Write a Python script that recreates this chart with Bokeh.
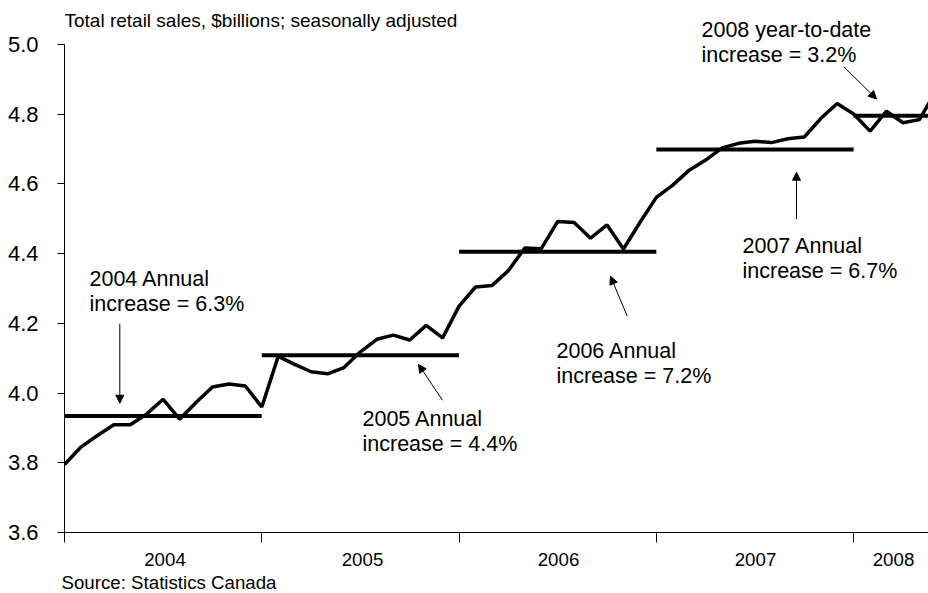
from bokeh.plotting import figure
from bokeh.models import Range1d, FixedTicker, Label, Arrow, NormalHead, Title
from bokeh.embed import file_html
from bokeh.resources import INLINE

# ---------------- data ----------------
# monthly index: 0 = Jan 2004 ... 52 = May 2008 (53 continues beyond the visible edge)
months = list(range(54))
sales = [3.795, 3.845, 3.878, 3.909, 3.909, 3.940, 3.982, 3.925, 3.973, 4.017, 4.026, 4.020,
         3.960, 4.105, 4.082, 4.061, 4.055, 4.073, 4.118, 4.154, 4.166, 4.152, 4.194, 4.158,
         4.249, 4.304, 4.308, 4.351, 4.416, 4.414, 4.492, 4.489, 4.444, 4.482, 4.413, 4.489,
         4.561, 4.596, 4.639, 4.668, 4.703, 4.716, 4.722, 4.718, 4.729, 4.734, 4.787, 4.830,
         4.800, 4.751, 4.808, 4.775, 4.784, 4.865]

year_names = ["2004", "2005", "2006", "2007", "2008"]
year_start = [0, 12, 24, 36, 48]
year_end = [12, 24, 36, 48, 53]
annual_avg = [3.934, 4.108, 4.405, 4.698, 4.795]

y_ticks = [3.6, 3.8, 4.0, 4.2, 4.4, 4.6, 4.8, 5.0]
y_tick_labels = ["3.6", "3.8", "4.0", "4.2", "4.4", "4.6", "4.8", "5.0"]

note_line1 = ["2004 Annual", "2005 Annual", "2006 Annual", "2007 Annual", "2008 year-to-date"]
note_line2 = ["increase = 6.3%", "increase = 4.4%", "increase = 7.2%", "increase = 6.7%", "increase = 3.2%"]

subtitle = "Total retail sales, $billions; seasonally adjusted"
source = "Source: Statistics Canada"

# ---------------- layout helpers (picture pixel -> data) ----------------
def dx(px):
    return (px - 64) / 16.44

def dy(py):
    return 3.6 + (535 - py) / 350.7

FONT = "Liberation Sans"

p = figure(width=928, height=593, output_backend="svg", toolbar_location=None,
           x_range=Range1d(0, dx(928)), y_range=Range1d(3.6, dy(0)),
           min_border_left=64, min_border_right=0, min_border_top=0, min_border_bottom=58)
p.outline_line_color = None
p.xgrid.visible = False
p.ygrid.visible = False
p.background_fill_color = "white"
p.border_fill_color = "white"

# y axis
p.yaxis.ticker = FixedTicker(ticks=y_ticks)
p.yaxis.bounds = (y_ticks[0], y_ticks[-1])
p.yaxis.major_label_overrides = {t: l for t, l in zip(y_ticks, y_tick_labels)}
p.yaxis.major_label_text_font = FONT
p.yaxis.major_label_text_font_size = "22px"
p.yaxis.major_label_text_color = "black"
p.yaxis.major_tick_in = 0
p.yaxis.major_tick_out = 7
p.yaxis.minor_tick_line_color = None
p.yaxis.major_label_standoff = 19
p.yaxis.axis_line_color = "black"
p.yaxis.major_tick_line_color = "black"

# x axis: boundary ticks (minor) + year labels at year centres (major, no tick mark)
year_centres = [dx(164.5), dx(362), dx(558), dx(755), dx(893)]
p.xaxis.ticker = FixedTicker(ticks=year_centres, minor_ticks=year_start)
p.xaxis.major_label_overrides = {t: n for t, n in zip(year_centres, year_names)}
p.xaxis.major_label_text_font = FONT
p.xaxis.major_label_text_font_size = "18.7px"
p.xaxis.major_label_text_color = "black"
p.xaxis.major_label_standoff = 10
p.xaxis.major_tick_in = 0
p.xaxis.major_tick_out = 0
p.xaxis.minor_tick_in = 0
p.xaxis.minor_tick_out = 10
p.xaxis.minor_tick_line_color = "black"
p.xaxis.axis_line_color = "black"

# source line below
p.add_layout(Title(text=source, align="left", text_font=FONT, text_font_size="18.7px",
                   text_font_style="normal", text_color="black", standoff=2, offset=-3),
             "below")

# annual average lines
p.segment(x0=year_start, y0=annual_avg, x1=year_end, y1=annual_avg,
          line_color="black", line_width=4)

# monthly series
p.line(months, sales, line_color="black", line_width=3.5)

# subtitle
p.add_layout(Label(x=dx(64), y=dy(20), text=subtitle, text_baseline="alphabetic",
                   text_font=FONT, text_font_size="19px", text_color="black"))

# annotations
note_pos = [(89, 280, 305), (362, 421, 446), (556, 352, 378), (742, 247, 272), (701, 30, 55)]
for l1, l2, (px, b1, b2) in zip(note_line1, note_line2, note_pos):
    for txt, b in ((l1, b1), (l2, b2)):
        p.add_layout(Label(x=dx(px), y=dy(b), text=txt, text_baseline="alphabetic",
                           text_font=FONT, text_font_size="21.5px", text_color="black"))

arrows = [((119.3, 325), (119.3, 405)),
          ((442, 402), (418, 366)),
          ((626.7, 317.3), (610, 277.3)),
          ((796, 220), (796, 172.7)),
          ((843.3, 66.7), (876, 99))]
for (tx, ty), (hx, hy) in arrows:
    p.add_layout(Arrow(x_start=dx(tx), y_start=dy(ty), x_end=dx(hx), y_end=dy(hy),
                       line_color="black", line_width=1,
                       end=NormalHead(size=8, fill_color="black", line_color="black", line_width=1)))

open("out.html", "w").write(file_html(p, INLINE))
